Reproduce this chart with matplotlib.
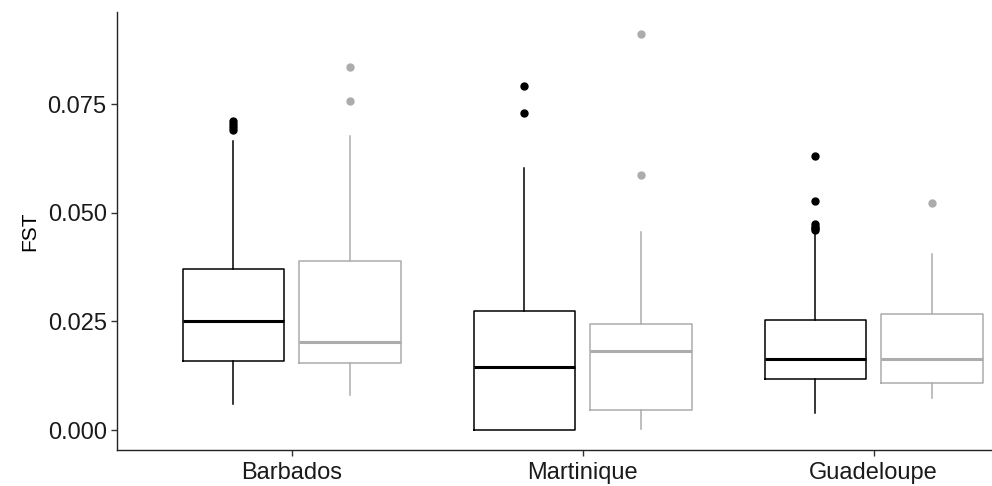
import numpy as np
import matplotlib
matplotlib.use('Agg')
import matplotlib.pyplot as plt

plt.rcParams['font.family'] = ['Liberation Sans', 'DejaVu Sans']

# data
islands = ['Barbados', 'Martinique', 'Guadeloupe']
# group A (black) stats: whislo, q1, med, q3, whishi
a_whislo = [0.0060, 0.0000, 0.0038]
a_q1 = [0.0159, 0.0000, 0.0117]
a_med = [0.0250, 0.0146, 0.0164]
a_q3 = [0.0370, 0.0275, 0.0254]
a_whishi = [0.0666, 0.0603, 0.0456]
a_fliers = [[0.0690, 0.0697, 0.0705, 0.0712],
            [0.0729, 0.0791],
            [0.0460, 0.0464, 0.0468, 0.0473, 0.0528, 0.0630]]
# group B (grey)
b_whislo = [0.0081, 0.0003, 0.0073]
b_q1 = [0.0155, 0.0046, 0.0109]
b_med = [0.0202, 0.0182, 0.0164]
b_q3 = [0.0390, 0.0243, 0.0268]
b_whishi = [0.0676, 0.0455, 0.0406]
b_fliers = [[0.0757, 0.0835],
            [0.0588, 0.0911],
            [0.0522]]

colors = ['#000000', '#ACACAC']
groups = [(a_whislo, a_q1, a_med, a_q3, a_whishi, a_fliers),
          (b_whislo, b_q1, b_med, b_q3, b_whishi, b_fliers)]
offsets = [-0.2, 0.2]

fig = plt.figure(figsize=(9.92, 4.86), dpi=100)
ax = fig.add_axes([0.118, 0.0741, 0.9387, 0.9012])

x = np.arange(1, len(islands) + 1)
for (wlo, q1, med, q3, whi, fl), col, off in zip(groups, colors, offsets):
    stats = []
    for i in range(len(islands)):
        stats.append(dict(whislo=wlo[i], q1=q1[i], med=med[i], q3=q3[i],
                          whishi=whi[i], fliers=fl[i]))
    ax.bxp(stats, positions=x + off, widths=0.35, showcaps=False,
           boxprops=dict(color=col, linewidth=1.1),
           whiskerprops=dict(color=col, linewidth=1.1),
           medianprops=dict(color=col, linewidth=2.2),
           flierprops=dict(marker='o', markerfacecolor=col, markeredgecolor=col,
                           markersize=5),
           manage_ticks=False)

ax.set_xlim(0.4, 3.6)
ax.set_ylim(-0.0046, 0.0962)
ax.set_xticks(x)
ax.set_xticklabels(islands)
ax.set_yticks([0, 0.025, 0.05, 0.075])
ax.set_yticklabels(['0.000', '0.025', '0.050', '0.075'])
ax.set_ylabel('FST', fontsize=15, labelpad=6)
ax.tick_params(labelsize=17, length=4, width=1, colors='#333333', labelcolor='#1a1a1a')
ax.tick_params(axis='x', pad=5)
for s in ['top', 'right']:
    ax.spines[s].set_visible(False)
for s in ['left', 'bottom']:
    ax.spines[s].set_linewidth(1)
    ax.spines[s].set_color('#222222')

fig.savefig('out.png', dpi=100)
